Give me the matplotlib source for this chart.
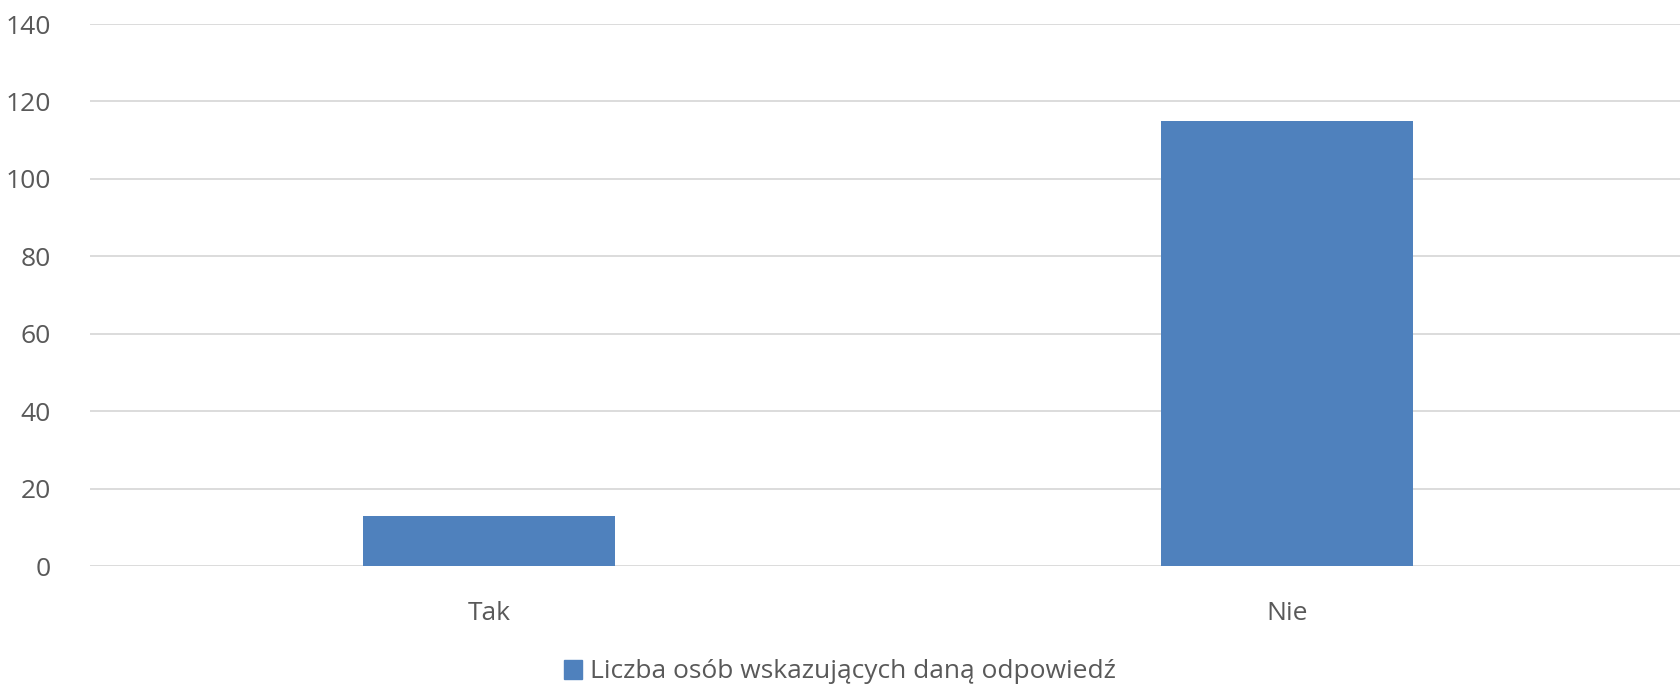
import numpy as np
import matplotlib
matplotlib.use('Agg')
from matplotlib import pyplot as plt
from matplotlib.patches import Patch

# data
categories = ['Tak', 'Nie']
values = [13, 115]
series_name = 'Liczba osób wskazujących daną odpowiedź'
yticks = [0, 20, 40, 60, 80, 100, 120, 140]

plt.rcParams['font.family'] = ['Open Sans', 'DejaVu Sans']
text_col = '#595959'
grid_col = '#D9D9D9'
bar_col = '#4F81BD'

fig = plt.figure(figsize=(16.8, 6.84), dpi=100)
ax = fig.add_axes([90/1680, 1-566/684, 1-90/1680 + 6/1680, (566-24)/684])

x = np.arange(len(categories))
ax.bar(x, values, width=0.315, color=bar_col, zorder=3)

ax.set_xlim(-0.5, len(categories)-0.5)
ax.set_ylim(0, 140)
ax.set_yticks(yticks)
ax.set_xticks(x)
ax.set_xticklabels(categories)
ax.yaxis.grid(True, color=grid_col, linewidth=1.3, zorder=0)
for s in ax.spines.values():
    s.set_visible(False)
ax.tick_params(axis='both', length=0, labelsize=19, colors=text_col)
ax.tick_params(axis='y', pad=28)
ax.tick_params(axis='x', pad=25)

leg = fig.legend(handles=[Patch(color=bar_col, label=series_name)],
                 loc='center', bbox_to_anchor=(0.5, 1-672/684), frameon=False,
                 fontsize=19, handlelength=0.7, handleheight=0.7, handletextpad=0.3)
for t in leg.get_texts():
    t.set_color(text_col)

plt.savefig('out.png', dpi=100)
